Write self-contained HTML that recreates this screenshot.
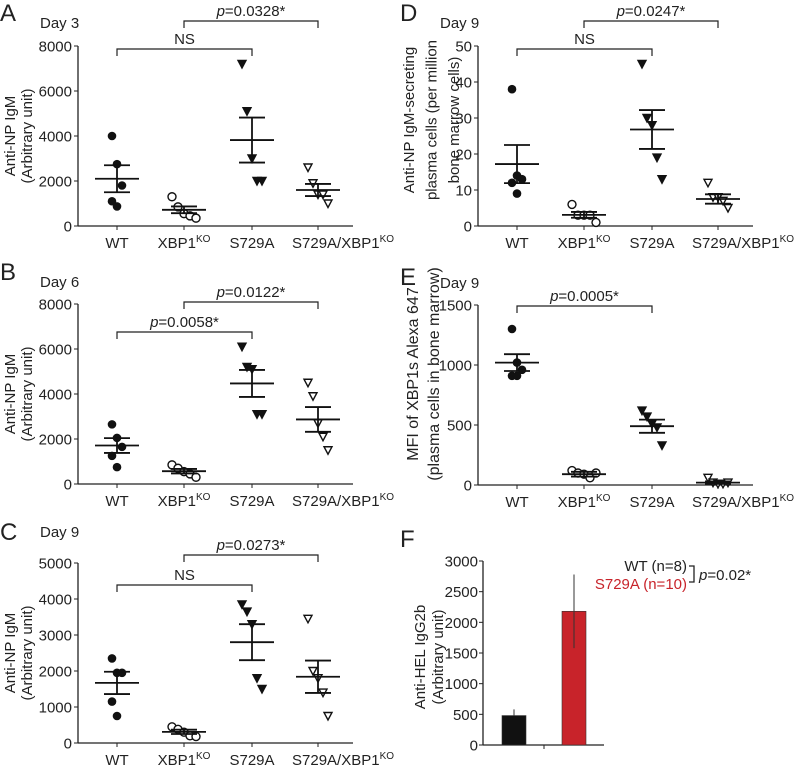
<!DOCTYPE html>
<html><head><meta charset="utf-8"><style>
body{margin:0;background:#fff}
svg{display:block;font-family:"Liberation Sans",sans-serif}
</style></head><body>
<svg id="fig" width="800" height="766" viewBox="0 0 800 766" xmlns="http://www.w3.org/2000/svg"></svg>
<script>
const groups=["WT","XBP1","S729A","S729A/XBP1"];
const aWT=[4000,2750,1800,1100,870], aKO=[1300,850,550,450,350], aS=[7200,5100,3000,2000,2000], aSK=[2600,1900,1400,1400,1000];
const aMean=[2100,720,3820,1600], aSem=[600,150,1000,270];
const bWT=[2650,2050,1650,1250,750], bKO=[850,700,550,450,300], bS=[6100,5200,5100,3100,3100], bSK=[4500,3900,2700,2100,1500];
const bMean=[1710,570,4470,2870], bSem=[330,100,600,550];
const cWT=[2350,1950,1950,1150,750], cKO=[450,380,300,200,180], cS=[3850,3650,3300,1800,1500], cSK=[3450,2000,1800,1400,750];
const cMean=[1670,310,2800,1840], cSem=[310,60,500,450];
const dWT=[38,14,13,12,9], dKO=[6,3,3,3,1], dS=[45,30,28,19,13], dSK=[12,8,8,7,5];
const dMean=[17.2,3.1,26.8,7.5], dSem=[5.3,0.8,5.4,1.3];
const eWT=[1300,1020,960,910,910], eKO=[120,100,90,60,100], eS=[620,570,510,480,330], eSK=[60,20,10,10,20];
const eMean=[1020,90,490,20], eSem=[70,20,55,10];
const aTicks=[0,2000,4000,6000,8000], cTicks=[0,1000,2000,3000,4000,5000], dTicks=[0,10,20,30,40,50], eTicks=[0,500,1000,1500];
const fCats=["WT","S729A"], fVals=[480,2180], fErr=[100,600], fTicks=[0,500,1000,1500,2000,2500,3000];

const NS="http://www.w3.org/2000/svg", svg=document.getElementById('fig');
function el(t,a,p){const e=document.createElementNS(NS,t);for(const k in a)e.setAttribute(k,a[k]);(p||svg).appendChild(e);return e;}
function txt(s,a,p){const e=el('text',a,p);e.textContent=s;return e;}

function scatterPanel(o){
  const g=el('g',{});
  
  
  const y=v=>o.y0+(o.y1-o.y0)*(v/o.max);
  const xs=[o.ax+39,o.ax+106,o.ax+174,o.ax+240];
  txt(o.letter,{x:o.lx,y:o.ly,'font-size':24,fill:'#222'},g);
  txt(o.day,{x:o.ax-38,y:o.dy,'font-size':15,fill:'#222'},g);
  const ya=el('line',{x1:o.ax,x2:o.ax,y1:o.y1,y2:o.y0,stroke:'#222','stroke-width':1.3},g);
  
  const xa=el('line',{x1:o.ax,x2:o.ax+275,y1:o.y0,y2:o.y0,stroke:'#222','stroke-width':1.3},g);
  
  o.ticks.forEach(t=>{
    el('line',{x1:o.ax-4,x2:o.ax,y1:y(t),y2:y(t),stroke:'#222'},g);
    const tl=txt(String(t),{x:o.ax-6,y:y(t)+5.5,'font-size':15,'text-anchor':'end',fill:'#222'},g);
    
  });
  xs.forEach((x,i)=>{
    el('line',{x1:x,x2:x,y1:o.y0,y2:o.y0+4,stroke:'#222'},g);
    const last=i===3;
    const t=txt('',{x:last?o.ax+214:x,y:o.y0+22,'font-size':15,'text-anchor':last?'start':'middle',fill:'#222'},g);
    
    if(groups[i].endsWith('XBP1')){t.textContent=groups[i];const s=el('tspan',{dy:-6,'font-size':10},t);s.textContent='KO';}
    else t.textContent=groups[i];
  });
  const cy=o.cy||(o.y0+o.y1)/2;
  const title=el('text',{transform:`translate(${o.tx},${cy}) rotate(-90)`,'font-size':o.tf||15,'text-anchor':'middle',fill:'#222'},g);
  
  o.title.forEach((s,i)=>{const ts=el('tspan',{x:0,dy:i?o.lh:0},title);ts.textContent=s;});
  o.data.forEach((arr,i)=>{
    arr.forEach((v,j)=>{
      const cy=y(v);
      let m;
      if(i===0)m=el('circle',{cx:xs[i]+((j%3)-1)*5,cy:cy,r:4.3,fill:'#111'},g);
      else if(i===1)m=el('circle',{cx:xs[i]+(j-2)*6,cy:cy,r:4,fill:'#fff',stroke:'#111','stroke-width':1.4},g);
      else{const xx=xs[i]+(j-2)*5;m=el('polygon',{points:`${xx-4},${cy-3.5} ${xx+4},${cy-3.5} ${xx},${cy+4}`,fill:i===2?'#111':'#fff',stroke:'#111','stroke-width':1.4},g);}
      
    });
    const mm=o.mean[i],se=o.sem[i];
    el('line',{x1:xs[i]-22,x2:xs[i]+22,y1:y(mm),y2:y(mm),stroke:'#111','stroke-width':1.8},g);
    el('line',{x1:xs[i]-13,x2:xs[i]+13,y1:y(mm+se),y2:y(mm+se),stroke:'#111','stroke-width':1.8},g);
    el('line',{x1:xs[i]-13,x2:xs[i]+13,y1:y(mm-se),y2:y(mm-se),stroke:'#111','stroke-width':1.8},g);
    el('line',{x1:xs[i],x2:xs[i],y1:y(mm+se),y2:y(mm-se),stroke:'#111','stroke-width':1.8},g);
  });
  o.brackets.forEach(b=>{
    const x1=xs[b[0]],x2=xs[b[1]],by=b[2];
    const p=el('path',{d:`M${x1},${by+7}V${by}H${x2}V${by+7}`,fill:'none',stroke:'#222','stroke-width':1.2},g);
    
    const t=el('text',{x:(x1+x2)/2,y:by-5,'font-size':15,'text-anchor':'middle',fill:'#222'},g);
    
    if(b[3]==='NS')t.textContent='NS';
    else{const i1=el('tspan',{'font-style':'italic'},t);i1.textContent='p';const r=el('tspan',{},t);r.textContent='='+b[3]+'*';}
  });
}
scatterPanel({name:'panel-a',letter:'A',lx:0,ly:21,day:'Day 3',dy:28,ax:78,y0:226,y1:46,max:8000,ticks:aTicks,tx:15,lh:17,title:['Anti-NP IgM','(Arbitrary unit)'],data:[aWT,aKO,aS,aSK],mean:aMean,sem:aSem,brackets:[[0,2,49,'NS'],[1,3,21,'0.0328']]});
scatterPanel({name:'panel-b',letter:'B',lx:0,ly:280,day:'Day 6',dy:287,ax:78,y0:484,y1:304,max:8000,ticks:aTicks,tx:15,lh:17,title:['Anti-NP IgM','(Arbitrary unit)'],data:[bWT,bKO,bS,bSK],mean:bMean,sem:bSem,brackets:[[0,2,332,'0.0058'],[1,3,302,'0.0122']]});
scatterPanel({name:'panel-c',letter:'C',lx:0,ly:540,day:'Day 9',dy:537,ax:78,y0:743,y1:563,max:5000,ticks:cTicks,tx:15,lh:17,title:['Anti-NP IgM','(Arbitrary unit)'],data:[cWT,cKO,cS,cSK],mean:cMean,sem:cSem,brackets:[[0,2,585,'NS'],[1,3,555,'0.0273']]});
scatterPanel({name:'panel-d',letter:'D',lx:400,ly:21,day:'Day 9',dy:28,ax:478,y0:226,y1:46,max:50,ticks:dTicks,tx:414,lh:22.5,cy:120,title:['Anti-NP IgM-secreting','plasma cells (per million','bone marrow cells)'],data:[dWT,dKO,dS,dSK],mean:dMean,sem:dSem,brackets:[[0,2,49,'NS'],[1,3,21,'0.0247']]});
scatterPanel({name:'panel-e',letter:'E',lx:400,ly:285,day:'Day 9',dy:288,ax:478,y0:485,y1:305,max:1500,ticks:eTicks,tx:418,lh:21,cy:374,tf:16,title:['MFI of XBP1s Alexa 647','(plasma cells in bone marrow)'],data:[eWT,eKO,eS,eSK],mean:eMean,sem:eSem,brackets:[[0,2,306,'0.0005']]});

(function(){
  const g=el('g',{});
  
  
  const ax=483,y0=745,y1=561,max=3000;
  const y=v=>y0+(y1-y0)*(v/max);
  txt('F',{x:400,y:547,'font-size':24,fill:'#222'},g);
  el('line',{x1:ax,x2:ax,y1:y1,y2:y0,stroke:'#222','stroke-width':1.3},g);
  el('line',{x1:ax,x2:604,y1:y0,y2:y0,stroke:'#222','stroke-width':1.3},g);
  el('line',{x1:544,x2:544,y1:y0,y2:y0+4,stroke:'#222'},g);
  fTicks.forEach(t=>{
    el('line',{x1:ax-4,x2:ax,y1:y(t),y2:y(t),stroke:'#222'},g);
    txt(String(t),{x:ax-5,y:y(t)+5.5,'font-size':15,'text-anchor':'end',fill:'#222'},g);
  });
  const title=el('text',{transform:`translate(425,657) rotate(-90)`,'font-size':15,'text-anchor':'middle',fill:'#222'},g);
  
  ['Anti-HEL IgG2b','(Arbitrary unit)'].forEach((s,i)=>{const ts=el('tspan',{x:0,dy:i?18:0},title);ts.textContent=s;});
  const cols=['#111','#c8232a'], cx=[514,574];
  fVals.forEach((v,i)=>{
    const b=el('rect',{x:cx[i]-12,y:y(v),width:24,height:y0-y(v),fill:cols[i],stroke:'#333','stroke-width':0.6},g);
    
    
    const e=el('line',{x1:cx[i],x2:cx[i],y1:y(v+fErr[i]),y2:i?y(v-fErr[i]):y(v),stroke:'#333','stroke-width':1},g);
    
  });
  txt('WT (n=8)',{x:687,y:571,'font-size':15,'text-anchor':'end',fill:'#222'},g);
  txt('S729A (n=10)',{x:687,y:589,'font-size':15,'text-anchor':'end',fill:'#c8232a'},g);
  el('path',{d:'M689,566H694V582H689',fill:'none',stroke:'#222','stroke-width':1.3},g);
  const p=el('text',{x:699,y:580,'font-size':15,fill:'#222'},g);
  
  const i1=el('tspan',{'font-style':'italic'},p);i1.textContent='p';const r=el('tspan',{},p);r.textContent='=0.02*';
})();
</script>
</body></html>
